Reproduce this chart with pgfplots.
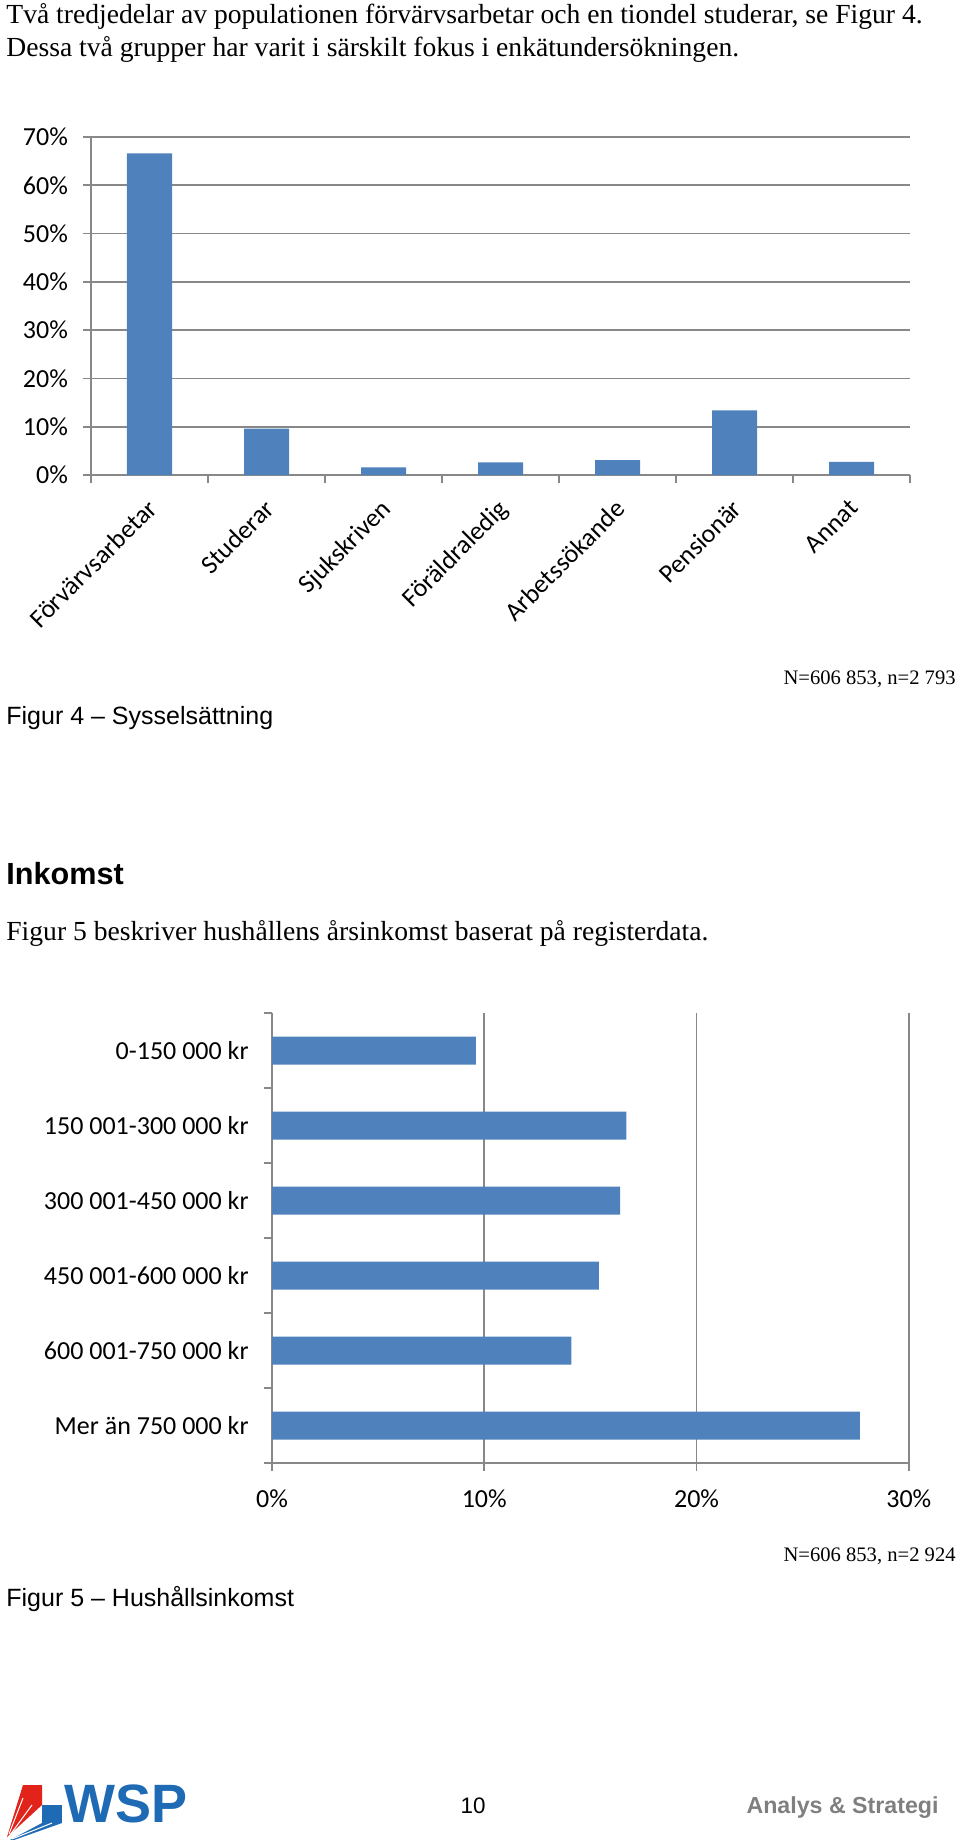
\documentclass[border=0pt]{standalone}
\usepackage{fontspec}
\usepackage{pgfplots}
\pgfplotsset{compat=1.18}
\setmainfont{Liberation Serif}
\newfontfamily\arial{Liberation Sans}
\newfontfamily\calibri{Carlito}
\definecolor{barblue}{HTML}{4F81BD}
\definecolor{gridgray}{HTML}{888888}
\definecolor{wspblue}{HTML}{1F6AB4}
\definecolor{wspred}{HTML}{E2231A}
\definecolor{footgray}{HTML}{7F7F7F}
\begin{document}
\begin{tikzpicture}
\useasboundingbox (0,0) rectangle (480pt,-920pt);
% body text
\node[anchor=base west, inner sep=0, font=\fontsize{13.8}{16}\selectfont] at (3pt,-12pt) {Två tredjedelar av populationen förvärvsarbetar och en tiondel studerar, se Figur 4.};
\node[anchor=base west, inner sep=0, font=\fontsize{13.8}{16}\selectfont] at (3pt,-28.5pt) {Dessa två grupper har varit i särskilt fokus i enkätundersökningen.};

\begin{axis}[
  at={(45.5pt,-237.5pt)}, anchor=south west, scale only axis,
  width=409.5pt, height=169pt,
  xmin=-0.5, xmax=6.5, ymin=0, ymax=70,
  axis lines*=left,
  axis line style={draw=gridgray, line width=0.9pt},
  ytick={0,10,...,70}, yticklabels={0\%,10\%,20\%,30\%,40\%,50\%,60\%,70\%},
  yticklabel style={xshift=-4pt},
  ymajorgrids, grid style={draw=gridgray, line width=0.9pt},
  xtick={-0.5,0.5,...,6.5}, xticklabels={},
  extra x ticks={0,1,...,6},
  extra x tick labels={Förvärvsarbetar,Studerar,Sjukskriven,Föräldraledig,Arbetssökande,Pensionär,Annat},
  extra x tick style={major tick length=0pt, grid=none, xticklabel style={xshift=-1.9pt, yshift=-6.5pt, rotate=45, anchor=north east}},
  tick align=outside, major tick length=4pt,
  tick style={draw=gridgray, line width=0.9pt},
  ticklabel style={font=\calibri\fontsize{13}{15}\selectfont},
]
\addplot[ybar, bar width=22.5pt, fill=barblue, draw=none] coordinates {(0,66.6) (1,9.6) (2,1.6) (3,2.6) (4,3.1) (5,13.4) (6,2.7)};
\end{axis}

\node[anchor=base east, inner sep=0, font=\fontsize{10.3}{12}\selectfont] at (478pt,-342pt) {N=606 853, n=2 793};
\node[anchor=base west, inner sep=0, font=\arial\fontsize{12.5}{15}\selectfont] at (3pt,-362pt) {Figur 4 – Sysselsättning};
\node[anchor=base west, inner sep=0, font=\arial\bfseries\fontsize{15.3}{18}\selectfont] at (3pt,-442pt) {Inkomst};
\node[anchor=base west, inner sep=0, font=\fontsize{13.8}{16}\selectfont] at (3pt,-470pt) {Figur 5 beskriver hushållens årsinkomst baserat på registerdata.};

\begin{axis}[
  at={(136pt,-731.5pt)}, anchor=south west, scale only axis,
  width=318.4pt, height=225pt,
  xmin=0, xmax=30, ymin=-0.5, ymax=5.5,
  axis lines*=left,
  axis line style={draw=gridgray, line width=0.9pt},
  xtick={0,10,20,30}, xticklabels={0\%,10\%,20\%,30\%},
  xticklabel style={yshift=-5.9pt},
  xmajorgrids, grid style={draw=gridgray, line width=0.9pt},
  ytick={-0.5,0.5,...,5.5}, yticklabels={},
  extra y ticks={0,1,...,5},
  extra y tick labels={Mer än 750 000 kr,600 001-750 000 kr,450 001-600 000 kr,300 001-450 000 kr,150 001-300 000 kr,0-150 000 kr},
  extra y tick style={major tick length=0pt, grid=none, yticklabel style={xshift=-8.2pt}},
  tick align=outside, major tick length=4pt,
  tick style={draw=gridgray, line width=0.9pt},
  ticklabel style={font=\calibri\fontsize{13}{15}\selectfont},
]
\addplot[xbar, bar width=14pt, fill=barblue, draw=none] coordinates {(27.7,0) (14.1,1) (15.4,2) (16.4,3) (16.7,4) (9.6,5)};
\end{axis}

\node[anchor=base east, inner sep=0, font=\fontsize{10.3}{12}\selectfont] at (478pt,-780.5pt) {N=606 853, n=2 924};
\node[anchor=base west, inner sep=0, font=\arial\fontsize{12.5}{15}\selectfont] at (3pt,-803pt) {Figur 5 – Hushållsinkomst};

% footer
\fill[wspred] (11.5pt,-892.5pt) -- (21pt,-892.5pt) -- (21pt,-902.5pt) -- (3.5pt,-918.5pt) -- cycle;
\draw[white, line width=0.5pt] (4.5pt,-917pt) -- (11.5pt,-899pt);
\draw[white, line width=0.5pt] (5pt,-917.5pt) -- (16pt,-902.5pt);
\fill[wspblue] (21pt,-902.5pt) rectangle (31pt,-911.5pt);
\fill[wspblue] (21pt,-911.5pt) -- (31pt,-911.5pt) -- (7pt,-920pt) -- (5pt,-920pt) -- cycle;
\draw[white, line width=0.5pt] (6pt,-919.5pt) -- (26pt,-911.5pt);
\node[anchor=base west, inner sep=0, font=\arial\bfseries\fontsize{27}{30}\selectfont, text=wspblue] at (32pt,-911pt) {WSP};
\node[anchor=base, inner sep=0, font=\arial\fontsize{11.2}{13}\selectfont] at (236.5pt,-906.5pt) {10};
\node[anchor=base east, inner sep=0, font=\arial\bfseries\fontsize{11.6}{14}\selectfont, text=footgray] at (469.5pt,-906.5pt) {Analys \& Strategi};
\end{tikzpicture}
\end{document}
